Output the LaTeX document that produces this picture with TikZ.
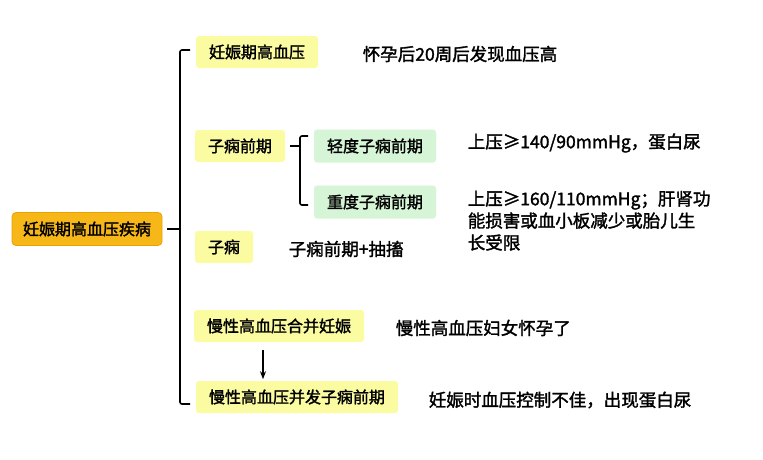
\documentclass[tikz,border=0pt]{standalone}
\usepackage{fontspec}
\setmainfont{Noto Sans CJK SC}[RawFeature={embolden=1.8}]
\usetikzlibrary{arrows.meta}
\usetikzlibrary{positioning}
\definecolor{rootfill}{HTML}{F7B719}
\definecolor{rootline}{HTML}{E8A300}
\definecolor{yelfill}{HTML}{FBFBA2}
\definecolor{grnfill}{HTML}{D6F5D6}

\begin{document}
\begin{tikzpicture}[x=1pt,y=-1pt,line width=1.6pt,>={Stealth[length=8pt,width=6pt]},
    root node/.style={rectangle,rounded corners=4pt,fill=rootfill,draw=rootline,line width=0.8pt,minimum height=33pt,inner xsep=11pt,font=\fontsize{16}{18}\selectfont},
    yel node/.style={rectangle,rounded corners=3pt,fill=yelfill,minimum height=32pt,inner xsep=13pt,font=\fontsize{16}{18}\selectfont},
    grn node/.style={rectangle,rounded corners=3pt,fill=grnfill,minimum height=33pt,inner xsep=13pt,font=\fontsize{16}{18}\selectfont},
    note/.style={anchor=west,inner sep=0pt,align=left,font=\fontsize{17.5}{22}\selectfont}]
   \useasboundingbox[fill=white] (0,0) rectangle (763,459);
   % boxes
   \node[root node] (root) at (87,229) {妊娠期高血压疾病};
   \node[yel node] (gh) at (257,52) {妊娠期高血压};
   \node[yel node] (pe) at (240,146) {子痫前期};
   \node[grn node] (mild) at (375,146) {轻度子痫前期};
   \node[grn node] (severe) at (375,202) {重度子痫前期};
   \node[yel node] (ec) at (224,247) {子痫};
   \node[yel node] (ch) at (279,326) {慢性高血压合并妊娠};
   \node[yel node] (chpe) at (297,397) {慢性高血压并发子痫前期};
   % notes
   \node[note] (ghtxt) at (362,54) {怀孕后20周后发现血压高};
   \node[note] (mildtxt) at (467,143) {上压≥140/90mmHg，蛋白尿};
   \node[note,anchor=north west] (sevtxt) at (467,190) {上压≥160/110mmHg；肝肾功\\能损害或血小板减少或胎儿生\\长受限};
   \node[note] (ectxt) at (288,249) {子痫前期+抽搐};
   \node[note] (chtxt) at (395,328) {慢性高血压妇女怀孕了};
   \node[note] (chpetxt) at (428,400) {妊娠时血压控制不佳，出现蛋白尿};
   % brackets
   \coordinate (mt) at (180,50);
   \coordinate (mb) at (180,404);
   \coordinate (st) at (300,136);
   \coordinate (sb) at (300,205);
   \draw[rounded corners=2pt] ([xshift=10pt]mt) -- (mt) -- (mb) -- ([xshift=10pt]mb);
   \draw[shorten <=5pt] (root.east) -- (root.east -| mt);
   \draw[rounded corners=2pt] ([xshift=8pt]st) -- (st) -- (sb) -- ([xshift=8pt]sb);
   \draw[shorten <=4pt] (pe.east) -- (pe.east -| st);
   % arrow
   \coordinate (ax) at (263,0);
   \draw[->,line width=1.2pt,shorten <=7pt,shorten >=1pt] (ch.south -| ax) -- (chpe.north -| ax);
  \end{tikzpicture}
\end{document}
